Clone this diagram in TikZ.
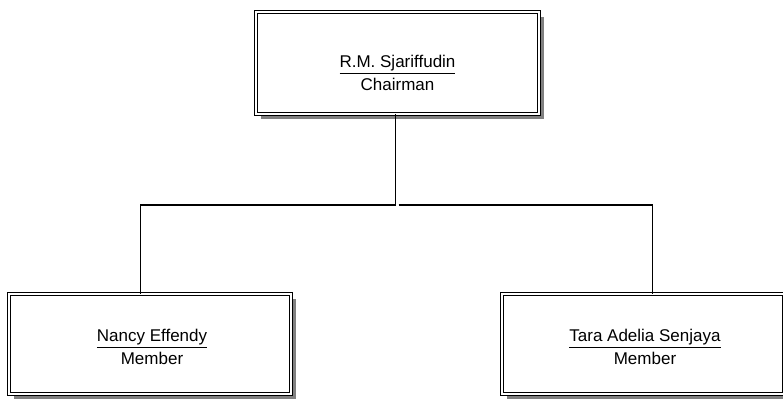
\documentclass[tikz,border=0pt]{standalone}
\usepackage{fontspec}
\setmainfont{Liberation Sans}
\usetikzlibrary{backgrounds,calc}
\begin{document}
\begin{tikzpicture}[x=1pt,y=-1pt,
  box/.style={draw, double, double distance=1.5pt, line width=1.2pt, fill=white,
    inner sep=0pt, outer sep=0pt},
  shade/.style={fill=black!50},
  label/.style={inner sep=0pt, align=center, font=\fontsize{17}{23}\selectfont},
  wire/.style={line width=1.4pt}]
\useasboundingbox (0,0) rectangle (783,400);
\clip (0,0) rectangle (783,400);
% boxes
\node[box, minimum width=283pt, minimum height=102pt] (chair) at (397.5,63) {};
\node[box, minimum width=282pt, minimum height=100pt] (nancy) at (150,344) {};
\node[box, minimum width=282pt, minimum height=100pt] (tara) at (643,344) {};
\begin{scope}[on background layer]
  \foreach \b in {chair,nancy,tara}
    \fill[shade] ($(\b.north west)+(5,5)$) rectangle ($(\b.south east)+(5,5)$);
\end{scope}
% texts
\node[label] (chairT) at (397.5,73.3) {\underline{R.M. Sjariffudin}\\Chairman};
\node[label] (nancyT) at (152,347.3) {\underline{Nancy Effendy}\\Member};
\node[label] (taraT) at (645,347.3) {\underline{Tara Adelia Senjaya}\\Member};
% connector points
\coordinate (top) at (chair.south -| 395.5,0);
\coordinate (jl) at (395.5,205);
\coordinate (jr) at (398.5,205);
\coordinate (lt) at (140.5,205);
\coordinate (rt) at (652.5,205);
\draw[wire] (top) -- (jl);
\draw[wire] (jl) -- (lt) -- (lt |- nancy.north);
\draw[wire] (jr) -- (rt) -- (rt |- tara.north);
\end{tikzpicture}
\end{document}
